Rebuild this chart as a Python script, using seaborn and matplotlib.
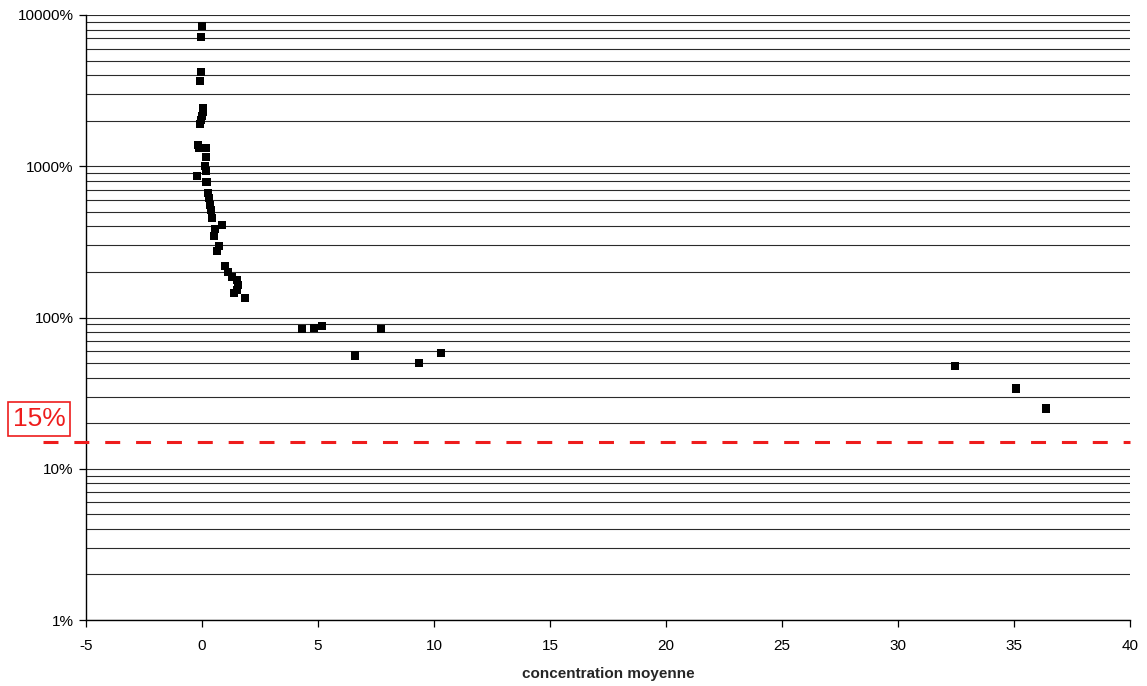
import numpy as np
import pandas as pd
import matplotlib
matplotlib.use("Agg")
import matplotlib.pyplot as plt
from matplotlib.ticker import FixedLocator, FuncFormatter, NullFormatter
import seaborn as sns

# Mean concentration vs. relative error (%)
concentration = [
    -0.01, -0.04, -0.04, -0.09,
    0.04, 0.04, 0.00, -0.04, -0.09,
    -0.17, -0.13, 0.15, 0.17, 0.13, 0.17, -0.22, 0.19,
    0.26, 0.30, 0.34, 0.39, 0.43, 0.86, 0.56, 0.52, 0.73, 0.65,
    0.99, 1.12, 1.29, 1.51, 1.55, 1.51, 1.38, 1.85,
    4.31, 4.83, 5.17, 7.72, 6.59, 9.35, 10.30,
    32.46, 35.09, 36.38,
]
erreur_pct = [
    8455, 7153, 4198, 3661,
    2427, 2285, 2148, 2020, 1900,
    1382, 1320, 1320, 1151, 1004, 930, 862, 787,
    665, 617, 554, 514, 455, 409, 385, 346, 297, 275,
    219, 200, 185, 177, 164, 152, 145, 135,
    84, 85, 88, 84, 56, 50, 58,
    48, 34, 25,
]
x_ticks = [-5, 0, 5, 10, 15, 20, 25, 30, 35, 40]
y_major = [1, 10, 100, 1000, 10000]
seuil = 15

df = pd.DataFrame({"concentration moyenne": concentration, "erreur": erreur_pct})

sns.set_theme(style="white")
plt.rcParams["font.family"] = ["Liberation Sans", "DejaVu Sans"]
plt.rcParams["axes.unicode_minus"] = False

fig = plt.figure(figsize=(11.47, 6.86), dpi=100)
ax = fig.add_axes([86 / 1147, 1 - 620 / 686, (1130 - 86) / 1147, (620 - 15) / 686])
ax.set_yscale("log")

# horizontal grid at every major and minor decade step
grid_vals = [m * 10 ** e for e in range(0, 4) for m in range(1, 10)] + [10000]
for v in grid_vals:
    ax.axhline(v, color="#2b2b2b", lw=0.8, zorder=1)

sns.scatterplot(data=df, x="concentration moyenne", y="erreur", ax=ax,
                marker="s", s=36, color="black", edgecolor="none",
                linewidth=0, zorder=3, legend=False)

# threshold line
ax.axhline(seuil, xmin=-0.041, xmax=1.0, color="#ee1c1c", lw=2.2,
           dashes=(4.9, 5.2), clip_on=False, zorder=4)
fig.text(39 / 1147, 1 - 419 / 686, f"{seuil}%", color="#ee1c1c",
         fontsize=19, ha="center", va="center",
         bbox=dict(boxstyle="square,pad=0.18", fc="white", ec="#ee1c1c", lw=1.2))

ax.set_xlim(-5, 40)
ax.set_ylim(1, 10000)
ax.xaxis.set_major_locator(FixedLocator(x_ticks))
ax.yaxis.set_major_locator(FixedLocator(y_major))
ax.yaxis.set_minor_formatter(NullFormatter())
ax.yaxis.set_major_formatter(FuncFormatter(lambda v, p: f"{v:.0f}%"))
ax.tick_params(axis="y", which="minor", length=0)
ax.tick_params(axis="both", which="major", length=5, width=0.9, color="black",
               direction="out", labelsize=11, labelcolor="black", pad=4)
ax.tick_params(axis="x", pad=9)
ax.tick_params(axis="x", bottom=True)
ax.tick_params(axis="y", left=True)

for side in ["left", "bottom"]:
    ax.spines[side].set_color("black")
    ax.spines[side].set_linewidth(1.0)
for side in ["top", "right"]:
    ax.spines[side].set_visible(False)

ax.set_xlabel("concentration moyenne", fontsize=11, fontweight="bold", labelpad=10)
ax.set_ylabel("")

fig.savefig("out.png", dpi=100, facecolor="white")
